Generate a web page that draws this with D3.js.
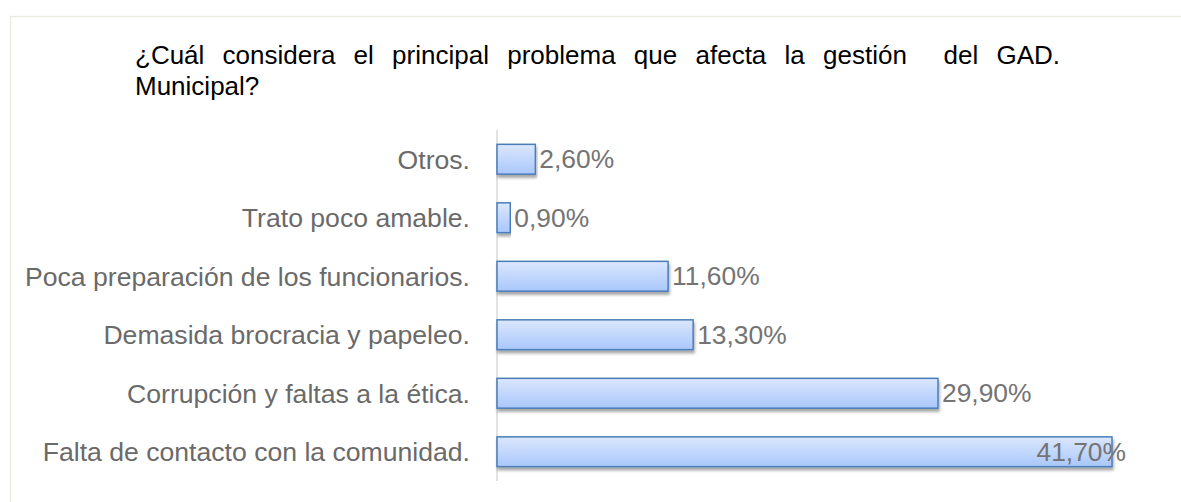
<!DOCTYPE html>
<html>
<head>
<meta charset="utf-8">
<script src="https://cdn.jsdelivr.net/npm/d3@7"></script>
<style>
	body { margin: 0; background: #fff; }
	svg { display: block; font-family: "Liberation Sans", Arial, sans-serif; }
</style>
</head>
<body>
<svg id="chart" width="1181" height="502"></svg>
<script>
const categories = [
	"Otros.",
	"Trato poco amable.",
	"Poca preparación de los funcionarios.",
	"Demasida brocracia y papeleo.",
	"Corrupción y faltas a la ética.",
	"Falta de contacto con la comunidad."
];
const values = [2.6, 0.9, 11.6, 13.3, 29.9, 41.7];
const valueLabels = ["2,60%", "0,90%", "11,60%", "13,30%", "29,90%", "41,70%"];
const titleLines = ["¿Cuál considera el principal problema que afecta la gestión  del GAD.", "Municipal?"];

const svg = d3.select("#chart");

// frame of the chart area
svg.append("rect")
	.attr("x", 10.5).attr("y", 16.5)
	.attr("width", 1190).attr("height", 500)
	.attr("fill", "none")
	.attr("stroke", "#ecebdf")
	.attr("stroke-width", 1.5);

// title, first line justified
const titleLeft = 135, titleRight = 1060;
const t1 = svg.append("text")
	.attr("x", titleLeft).attr("y", 64)
	.attr("font-size", 26).attr("fill", "#000")
	.style("white-space", "pre")
	.text(titleLines[0]);
const natural = t1.node().getComputedTextLength();
const spaces = titleLines[0].split(" ").length - 1;
t1.attr("word-spacing", Math.max(0, (titleRight - titleLeft - natural) / spaces));
svg.append("text")
	.attr("x", titleLeft).attr("y", 95)
	.attr("font-size", 26).attr("fill", "#000")
	.text(titleLines[1]);

const x = d3.scaleLinear().domain([0, 41.7]).range([497, 1112]);
const y = d3.scaleBand().domain(categories).range([130, 481])
	.paddingInner(0.49).paddingOuter(0.245);

const defs = svg.append("defs");
const grad = defs.append("linearGradient")
	.attr("id", "barFill").attr("x1", 0).attr("y1", 0).attr("x2", 0).attr("y2", 1);
grad.append("stop").attr("offset", "0%").attr("stop-color", "#dbe7fd");
grad.append("stop").attr("offset", "100%").attr("stop-color", "#a9c7fb");

const shadow = defs.append("filter").attr("id", "shadow")
	.attr("x", "-5%").attr("y", "-20%").attr("width", "110%").attr("height", "160%");
shadow.append("feGaussianBlur").attr("in", "SourceAlpha").attr("stdDeviation", 1.6);
shadow.append("feOffset").attr("dx", 1).attr("dy", 3).attr("result", "off");
shadow.append("feComponentTransfer").append("feFuncA").attr("type", "linear").attr("slope", 0.35);
const merge = shadow.append("feMerge");
merge.append("feMergeNode");
merge.append("feMergeNode").attr("in", "SourceGraphic");

// axis line
svg.append("line")
	.attr("x1", 497).attr("x2", 497)
	.attr("y1", y.range()[0]).attr("y2", y.range()[1])
	.attr("stroke", "#d9d9d9").attr("stroke-width", 1.5);

// category labels
svg.append("g").selectAll("text")
	.data(categories).enter()
	.append("text")
	.attr("x", 470)
	.attr("y", d => y(d) + y.bandwidth() / 2)
	.attr("dy", "0.35em")
	.attr("text-anchor", "end")
	.attr("font-size", 26.6)
	.attr("fill", "#6a6a6a")
	.text(d => d);

// bars
svg.append("g").selectAll("rect")
	.data(values).enter()
	.append("rect")
	.attr("x", x(0))
	.attr("y", (d, i) => y(categories[i]))
	.attr("width", d => x(d) - x(0))
	.attr("height", y.bandwidth())
	.attr("fill", "url(#barFill)")
	.attr("stroke", "#4a7ebb")
	.attr("stroke-width", 1.5)
	.attr("filter", "url(#shadow)");

// value labels
const plotRight = 1126;
svg.append("g").selectAll("text")
	.data(values).enter()
	.append("text")
	.attr("y", (d, i) => y(categories[i]) + y.bandwidth() / 2)
	.attr("dy", "0.35em")
	.attr("font-size", 26.4)
	.attr("fill", "#747474")
	.text((d, i) => valueLabels[i])
	.each(function (d) {
		const w = this.getComputedTextLength();
		let left = x(d) + 4;
		if (left + w > plotRight) left = plotRight - w;
		d3.select(this).attr("x", left);
	});
</script>
</body>
</html>
